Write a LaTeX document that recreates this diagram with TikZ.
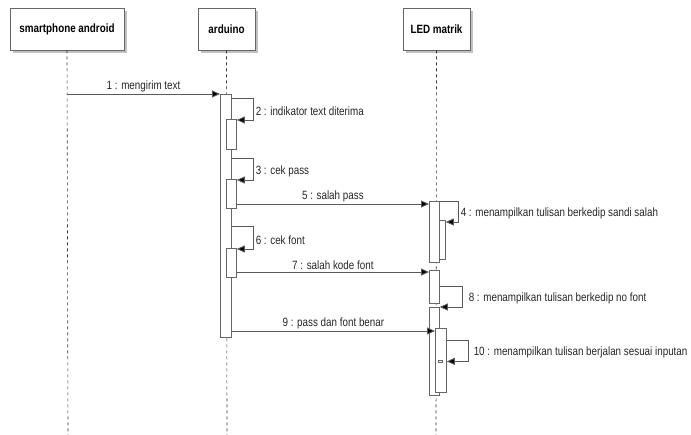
\documentclass[tikz,border=0pt]{standalone}
\usepackage{fontspec}
\newfontfamily\umlfont{Liberation Sans}[FakeStretch=0.82]
\usetikzlibrary{arrows.meta,shadows}

\begin{document}
\begin{tikzpicture}[x=1pt,y=-1pt,
	font=\umlfont\fontsize{12}{14}\selectfont,
	head/.style={draw=black!60,fill=white,line width=0.8pt,minimum height=42pt,inner sep=0pt,
		font=\umlfont\bfseries\fontsize{12}{14}\selectfont,
		drop shadow={shadow xshift=3pt,shadow yshift=-3pt,fill=black!30,opacity=0.8}},
	life/.style={black!80,dash pattern=on 3pt off 3pt,line width=0.6pt},
	bar/.style={draw=black!60,fill=white,line width=0.8pt,inner sep=0pt,anchor=north west},
	msg/.style={black!65,line width=0.9pt,-{Triangle[length=8pt,width=7pt,fill=black]}},
	lbl/.style={inner sep=1.5pt,text=black!85}]
	\useasboundingbox (0,0) rectangle (691,435);
	% lifelines
	\node[head,minimum width=114pt] (phone) at (67,29) {smartphone android};
	\node[head,minimum width=57pt] (ardu) at (226.5,29) {arduino};
	\node[head,minimum width=67pt] (led) at (436.5,29) {LED matrik};
	\coordinate (phoneEnd) at (68,435);
	\coordinate (arduEnd) at (227,435);
	\coordinate (ledEnd) at (436,435);
	\draw[life] (phone.south) -- (phoneEnd);
	\draw[life] (ardu.south) -- (arduEnd);
	\draw[life] (led.south) -- (ledEnd);
	% activations
	\node[bar,minimum width=11pt,minimum height=243pt] (actA) at (220,94) {};
	\node[bar,minimum width=10pt,minimum height=30pt] (n2) at (226,119) {};
	\node[bar,minimum width=10pt,minimum height=29pt] (n3) at (226,179) {};
	\node[bar,minimum width=10pt,minimum height=29pt] (n6) at (226,248) {};
	\node[bar,minimum width=10pt,minimum height=61pt] (ledA) at (429,201) {};
	\node[bar,minimum width=6pt,minimum height=39pt] (ledA2) at (439,220) {};
	\node[bar,minimum width=10pt,minimum height=33pt] (ledB) at (429,270) {};
	\node[bar,minimum width=10pt,minimum height=88pt] (ledC) at (429,307) {};
	\node[bar,minimum width=11pt,minimum height=64pt] (ledD) at (435,328) {};
	\node[bar,minimum width=4pt,minimum height=2pt] (n10) at (438,360) {};
	% message rows
	\coordinate (r5) at (0,204);
	\coordinate (r7) at (0,272);
	\coordinate (r9) at (0,331);
	% messages
	\draw[msg] (phone.south |- actA.north) -- node[lbl,above] {1 : mengirim text} (actA.north west);
	\draw[msg] (actA.east |- 0,98) -- ++(22,0) |- node[lbl,right,pos=0.3] {2 : indikator text diterima} ([yshift=-1pt]n2.north east);
	\draw[msg] (actA.east |- 0,158) -- ++(22,0) |- node[lbl,right,pos=0.3] {3 : cek pass} ([yshift=-1pt]n3.north east);
	\draw[msg] (n3.east |- r5) -- node[lbl,above] {5 : salah pass} (ledA.west |- r5);
	\draw[msg] (ledA.north east) -- ++(19,0) |- node[lbl,right,pos=0.3] {4 : menampilkan tulisan berkedip sandi salah} ([yshift=-2pt]ledA2.north east);
	\draw[msg] (actA.east |- 0,226) -- ++(22,0) |- node[lbl,right,pos=0.3] {6 : cek font} ([yshift=-1pt]n6.north east);
	\draw[msg] (n6.east |- r7) -- node[lbl,above] {7 : salah kode font} (ledB.west |- r7);
	\draw[msg] (ledB.east |- 0,286) -- ++(23,0) |- node[lbl,right,pos=0.3,xshift=4pt] {8 : menampilkan tulisan berkedip no font} (ledC.north east);
	\draw[msg] (actA.east |- r9) -- node[lbl,above] {9 : pass dan font benar} (ledD.west |- r9);
	\draw[msg] (ledD.east |- 0,340) -- ++(22,0) |- node[lbl,right,pos=0.3,xshift=3pt] {10 : menampilkan tulisan berjalan sesuai inputan} (ledD.east |- n10.east);
\end{tikzpicture}
\end{document}
